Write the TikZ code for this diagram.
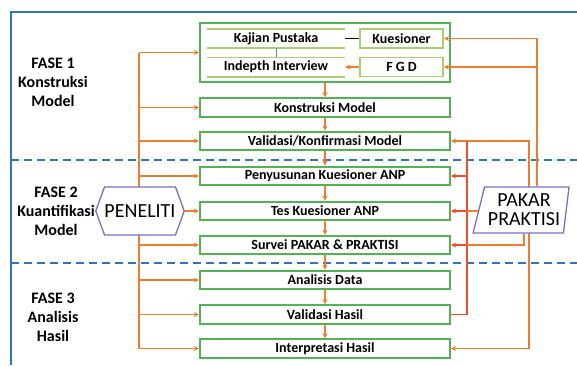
\documentclass[tikz,border=0pt]{standalone}
\usepackage{fontspec}
\setmainfont{Carlito}
\usetikzlibrary{arrows.meta,shapes.symbols,shapes.geometric,backgrounds}
\definecolor{cOr}{RGB}{237,125,49}
\definecolor{cRd}{RGB}{240,78,40}
\definecolor{cGn}{RGB}{84,178,84}
\definecolor{cLg}{RGB}{165,210,110}
\definecolor{cBl}{RGB}{46,117,190}
\definecolor{cPu}{RGB}{125,110,190}
\begin{document}
\begin{tikzpicture}[x=1pt,y=-1pt,
  box/.style={draw=cGn, line width=2pt, fill=white, minimum width=250pt, minimum height=18.5pt, inner sep=0pt, font=\fontsize{14}{15}\selectfont\bfseries},
  grpbox/.style={draw=cGn, line width=2pt, minimum width=250pt, minimum height=59pt, inner sep=0pt},
  sbox/.style={draw=cLg, line width=1.6pt, fill=white, minimum width=83pt, minimum height=19pt, inner sep=0pt, font=\fontsize{14}{15}\selectfont\bfseries},
  store/.style={minimum width=138pt, minimum height=19pt, inner sep=0pt, font=\fontsize{14}{15}\selectfont\bfseries},
  storeline/.style={draw=cLg, line width=1.6pt},
  fase/.style={align=center, font=\fontsize{16}{19}\selectfont\bfseries},
  ln/.style={draw=cOr, line width=1.4pt},
  arr/.style={ln, -{Stealth[length=5pt,width=5pt]}},
  rln/.style={draw=cRd, line width=1.4pt},
  rarr/.style={rln, -{Stealth[length=5pt,width=5pt]}},
  phase/.style={draw=cBl, line width=2pt, dash pattern=on 8pt off 5pt},
  frame/.style={draw=cBl, line width=2pt}
]
\useasboundingbox (0,0) rectangle (577,365);
% nodes
\node[grpbox] (grp) at (325,52.5) {};
\node[store] (kp) at (276,38.5) {Kajian Pustaka};
\node[store] (ii) at (276,67) {Indepth Interview};
\node[sbox] (kue) at (401.5,38.5) {Kuesioner};
\node[sbox] (fgd) at (401.5,67) {F G D};
\node[box] (km) at (325,107.5) {Konstruksi Model};
\node[box] (vk) at (325,141) {Validasi/Konfirmasi Model};
\node[box] (pk) at (325,176) {Penyusunan Kuesioner ANP};
\node[box] (tk) at (325,211) {Tes Kuesioner ANP};
\node[box] (sv) at (325,245) {Survei PAKAR \& PRAKTISI};
\node[box] (ad) at (325,280) {Analisis Data};
\node[box] (vh) at (325,314.5) {Validasi Hasil};
\node[box] (ih) at (325,348.5) {Interpretasi Hasil};
\node[fase] (f1) at (53,82) {FASE 1\\Konstruksi\\Model};
\node[fase] (f2) at (56,211) {FASE 2\\Kuantifikasi\\Model};
\node[fase] (f3) at (53,317) {FASE 3\\Analisis\\Hasil};
\node[signal, signal to=east and west, signal pointer angle=140, draw=cPu, line width=1.3pt, fill=white, minimum width=80pt, minimum height=48pt, inner sep=0pt, font=\fontsize{20}{22}\selectfont] (pen) at (140,211) {PENELITI};
\node[trapezium, trapezium left angle=72, trapezium right angle=99, trapezium stretches=true, draw=cPu, line width=1.3pt, fill=white, minimum width=96pt, minimum height=46pt, inner sep=0pt, align=center, font=\fontsize{20}{19}\selectfont] (pp) at (524,210) {PAKAR\\PRAKTISI};
\coordinate (lx) at (139,0);
\coordinate (rx) at (467,0);
\coordinate (r2) at (529,0);
\coordinate (r3) at (537,0);
% store lines
\draw[storeline] (kp.north west) -- (kp.north east) (kp.south west) -- (kp.south east);
\draw[storeline] (ii.north west) -- (ii.north east) (ii.south west) -- (ii.south east);
\begin{scope}[on background layer]
  \draw[frame] (11,365) -- (11,12) -- (577,12);
  \draw[phase] (11,159.5) -- (577,159.5);
  \draw[phase] (11,262.5) -- (577,262.5);
  \draw[ln] (lx |- grp.west) -- (lx |- ih.west);
  \draw[ln] (r2 |- vk.east) -- (r2 |- ih.east);
\end{scope}
% inner group
\draw[black, line width=1.2pt] (kp.east) -- (kue.west);
\draw[gray, line width=0.4pt] (kp.south) -- (ii.north);
\draw[arr] (fgd.west) -- (ii.east);
% vertical flow
\foreach \a/\b in {grp/km, km/vk, vk/pk, pk/tk, tk/sv, sv/ad, ad/vh, vh/ih}
  \draw[arr] (\a.south) -- (\b.north);
% left bus
\foreach \n in {grp,km,vk,pk,sv,ad,vh,ih}
  \draw[arr] (lx |- \n.west) -- (\n.west);
\draw[arr] (pen.east) -- (tk.west);
% right side
\draw[arr] (r3 |- pp.north) |- (kue.east);
\draw[arr] (r3 |- fgd.east) -- (fgd.east);
\draw[arr] (r2 |- pp.north) |- (vk.east);
\draw[rln] (rx |- vk.east) |- (vh.east);
\draw[rarr] (rx |- pk.east) -- (pk.east);
\draw[ln] (pp.west |- tk.east) -- (rx |- tk.east);
\draw[rarr] (rx |- tk.east) -- (tk.east);
\draw[ln] (pp.south) |- (rx |- sv.east);
\draw[rarr] (rx |- sv.east) -- (sv.east);
\draw[arr] (r2 |- pp.south) |- (ih.east);
\end{tikzpicture}
\end{document}
